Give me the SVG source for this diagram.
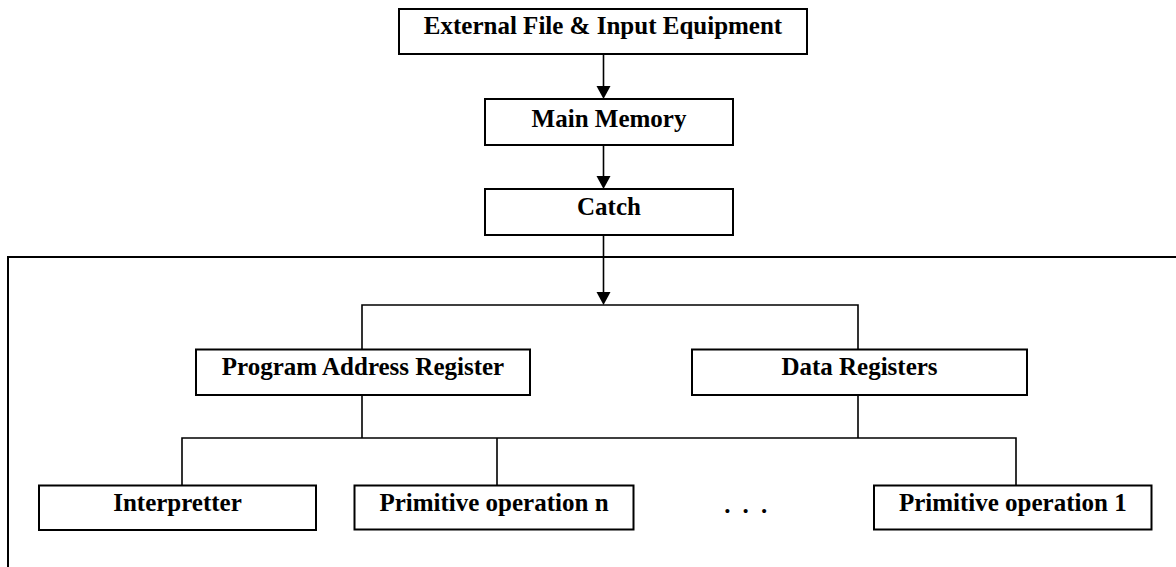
<svg xmlns="http://www.w3.org/2000/svg" width="1176" height="567" viewBox="0 0 1176 567">
  <style>
    .box { fill: #ffffff; stroke: #000000; stroke-width: 2; }
    .lbl { font-family: "Liberation Serif", "Times New Roman", serif; font-weight: bold; font-size: 25px; fill: #000000; text-anchor: middle; }
    .ln { fill: none; stroke: #000000; stroke-width: 1.6; }
    .frame { fill: none; stroke: #000000; stroke-width: 2; }
  </style>
  <defs>
    <marker id="arr" markerUnits="userSpaceOnUse" markerWidth="16" markerHeight="16" viewBox="0 0 14 13" refX="7" refY="13" orient="auto-start-reverse">
      <path d="M0,0 L14,0 L7,13 Z" fill="#000000" transform="rotate(0)"/>
    </marker>
  </defs>
  <rect width="1176" height="567" fill="#ffffff"/>

  <g id="frame">
    <path class="frame" d="M8,567 L8,257 L1180,257"/>
  </g>

  <g id="connectors">
    <line class="ln" x1="603.5" y1="54" x2="603.5" y2="86"/>
    <path d="M596.5,86 L610.5,86 L603.5,99 Z" fill="#000"/>
    <line class="ln" x1="603.5" y1="145" x2="603.5" y2="176"/>
    <path d="M596.5,176 L610.5,176 L603.5,189 Z" fill="#000"/>
    <line class="ln" x1="603.5" y1="235" x2="603.5" y2="292"/>
    <path d="M596.5,292 L610.5,292 L603.5,305 Z" fill="#000"/>
    <path class="ln" d="M362,349 L362,305 L858,305 L858,349"/>
    <path class="ln" d="M362,395 L362,438 M182,485 L182,438 L1016,438 L1016,485 M497,438 L497,485 M858,395 L858,438"/>
  </g>

  <g id="node-external">
    <rect class="box" x="399" y="9" width="408" height="45"/>
    <text class="lbl" x="603" y="34">External File &amp; Input Equipment</text>
  </g>
  <g id="node-main-memory">
    <rect class="box" x="485" y="99" width="248" height="46"/>
    <text class="lbl" x="609" y="126.5">Main Memory</text>
  </g>
  <g id="node-catch">
    <rect class="box" x="485" y="189" width="248" height="46"/>
    <text class="lbl" x="609" y="215">Catch</text>
  </g>
  <g id="node-par">
    <rect class="box" x="196" y="349.5" width="334" height="45.5"/>
    <text class="lbl" x="363" y="375">Program Address Register</text>
  </g>
  <g id="node-data-registers">
    <rect class="box" x="692" y="349.5" width="335" height="45.5"/>
    <text class="lbl" x="859.5" y="375">Data Registers</text>
  </g>
  <g id="node-interpretter">
    <rect class="box" x="39" y="485.5" width="277" height="44.5"/>
    <text class="lbl" x="177.5" y="511">Interpretter</text>
  </g>
  <g id="node-prim-n">
    <rect class="box" x="354.5" y="485.5" width="279" height="44"/>
    <text class="lbl" x="494" y="510.5">Primitive operation n</text>
  </g>
  <g id="node-dots">
    <text x="724.2 742.5 761" y="513" style="font-family: 'Liberation Serif', 'Times New Roman', serif; font-weight: bold; font-size: 25px;">...</text>
  </g>
  <g id="node-prim-1">
    <rect class="box" x="874" y="485.5" width="277.5" height="44"/>
    <text class="lbl" x="1012.8" y="510.5">Primitive operation 1</text>
  </g>
</svg>
